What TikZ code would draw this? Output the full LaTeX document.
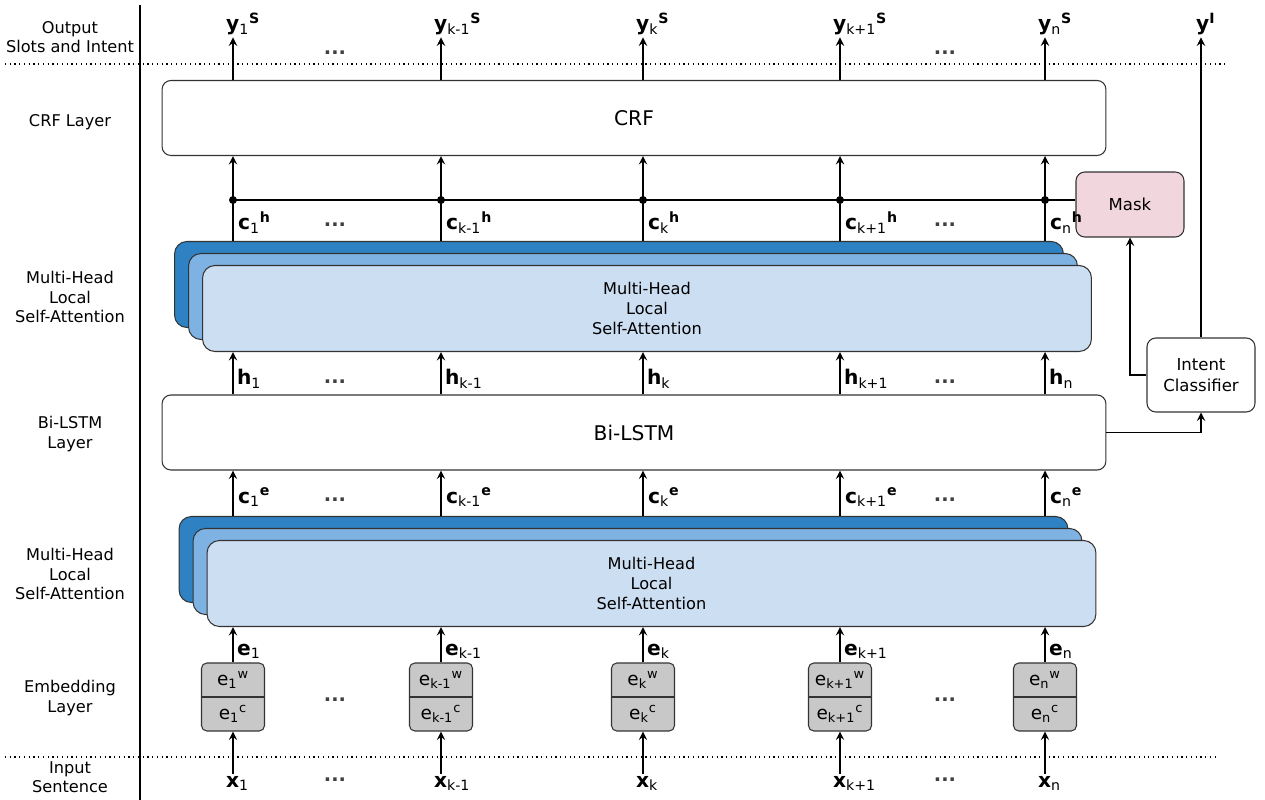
\documentclass[tikz,border=0pt]{standalone}
\usepackage{fontspec}
\setmainfont{DejaVu Sans}
\usepackage{xcolor}
\definecolor{headDark}{HTML}{2E82C3}
\definecolor{headMid}{HTML}{7EB2E2}
\definecolor{headLight}{HTML}{CCDEF2}
\definecolor{maskPink}{HTML}{F2D6DE}
\definecolor{embGray}{HTML}{C8C8C8}
\definecolor{boxLine}{HTML}{333333}
\newcommand{\vlab}[3]{\textbf{#1}\textsubscript{#2}\textsuperscript{\textbf{#3}}}
\usepackage{tikz}
\usetikzlibrary{calc}

\tikzset{
  layerbox/.style={draw=boxLine, fill=white, rounded corners=5pt, line width=0.6pt,
    minimum width=18.88cm, minimum height=1.5cm, font=\fontsize{11.5}{13}\selectfont},
  headbox/.style={draw=boxLine, rounded corners=7pt, line width=0.6pt,
    minimum width=17.78cm, minimum height=1.72cm, align=center,
    font=\fontsize{9.2}{11.3}\selectfont},
  sidebox/.style={draw=boxLine, rounded corners=5pt, line width=0.6pt,
    minimum width=2.16cm, align=center, font=\fontsize{9.4}{11.5}\selectfont},
  embbox/.style={draw=boxLine, fill=embGray, rounded corners=3pt, line width=0.6pt,
    minimum width=1.26cm, minimum height=1.36cm},
  embtext/.style={inner sep=0pt, font=\fontsize{10.5}{12}\selectfont},
  sidelabel/.style={align=center, font=\fontsize{9.2}{11}\selectfont},
  veclabel/.style={anchor=base west, inner sep=1pt, font=\fontsize{11.5}{13}\selectfont},
  dotsym/.style={inner sep=0pt, text=black!75, font=\fontsize{11}{12}\selectfont\bfseries},
  flow/.style={->, line width=1.1pt},
}

\begin{document}
\begin{tikzpicture}[x=0.02cm, y=-0.02cm, >=stealth]
  \useasboundingbox (0,0) rectangle (1265,800);
  % frame of the row labels
  \draw[line width=0.6pt] (140,5) -- (140,800);
  \draw[dotted, line width=0.7pt] (5,64) -- (1225,64);
  \draw[dotted, line width=0.7pt] (5,757) -- (1215,757);
  % row labels
  \node[sidelabel] (rowOut) at (70,37) {Output\\Slots and Intent};
  \node[sidelabel] (rowCrf) at (70,122) {CRF Layer};
  \node[sidelabel] (rowAttU) at (70,297) {Multi-Head\\Local\\Self-Attention};
  \node[sidelabel] (rowLstm) at (70,434) {Bi-LSTM\\Layer};
  \node[sidelabel] (rowAttL) at (70,574) {Multi-Head\\Local\\Self-Attention};
  \node[sidelabel] (rowEmb) at (70,698) {Embedding\\Layer};
  \node[sidelabel] (rowIn) at (70,777) {Input\\Sentence};
  % layers
  \node[layerbox] (crf) at (634,118) {CRF};
  \node[layerbox] (lstm) at (634,432.5) {Bi-LSTM};
  \node[headbox, fill=headDark] (attUc) at (619,284.5) {};
  \node[headbox, fill=headMid] (attUb) at (633,296.5) {};
  \node[headbox, fill=headLight] (attUa) at (647,308.5) {Multi-Head\\Local\\Self-Attention};
  \node[headbox, fill=headDark] (attLc) at (623.5,559.5) {};
  \node[headbox, fill=headMid] (attLb) at (637.5,571.5) {};
  \node[headbox, fill=headLight] (attLa) at (651.5,583.5) {Multi-Head\\Local\\Self-Attention};
  % intent branch
  \node[sidebox, fill=maskPink, minimum height=1.3cm] (mask) at (1130,204.5) {Mask};
  \node[sidebox, fill=white, minimum height=1.48cm] (intent) at (1201,375) {Intent\\Classifier};
  \node[veclabel] (yI) at (1194,31) {\textbf{y}\textsuperscript{\textbf{I}}};
  \coordinate (bus) at ($(mask.west)+(0,-4.5)$);
  % token columns
  \foreach \cx/\ix/\nm in {233/1/1, 441/k-1/2, 643/k/3, 840/k+1/4, 1045/n/5} {
    \node[embbox] (emb\nm) at (\cx,697) {};
    \draw[boxLine, line width=0.6pt] (emb\nm.west) -- (emb\nm.east);
    \node[embtext] (ew\nm) at (\cx,680) {e\textsubscript{\ix}\textsuperscript{w}};
    \node[embtext] (ec\nm) at (\cx,714) {e\textsubscript{\ix}\textsuperscript{c}};
    \node[veclabel] (x\nm) at (\cx-9,787) {\vlab{x}{\ix}{}};
    \node[veclabel] (e\nm) at (\cx+2,655) {\vlab{e}{\ix}{}};
    \node[veclabel] (ce\nm) at (\cx+3,503) {\vlab{c}{\ix}{e}};
    \node[veclabel] (h\nm) at (\cx+2,385) {\vlab{h}{\ix}{}};
    \node[veclabel] (ch\nm) at (\cx+3,230) {\vlab{c}{\ix}{h}};
    \node[veclabel] (y\nm) at (\cx-9,31) {\vlab{y}{\ix}{S}};
    \draw[flow] (x\nm.north -| emb\nm) -- (emb\nm.south);
    \draw[flow] (emb\nm.north) -- (attLa.south -| emb\nm);
    \draw[flow] (attLc.north -| emb\nm) -- (lstm.south -| emb\nm);
    \draw[flow] (lstm.north -| emb\nm) -- (attUa.south -| emb\nm);
    \draw[flow] (attUc.north -| emb\nm) -- (crf.south -| emb\nm);
    \fill (bus -| emb\nm) circle (0.08cm);
    \draw[flow] (crf.north -| emb\nm) -- (y\nm.south -| emb\nm);
  }
  \draw[line width=1.1pt] (bus -| emb1) -- (bus);
  % dots between columns
  \foreach \dy in {53,225,382,500,700,780} {
    \node[dotsym] (dl\dy) at (335,\dy) {...};
    \node[dotsym] (dr\dy) at (945,\dy) {...};
  }
  \draw[flow] (lstm.east) -| (intent.south);
  \draw[flow] (intent.west) -| (mask.south);
  \draw[flow] (intent.north) -- (intent.north |- yI.south);
\end{tikzpicture}
\end{document}
